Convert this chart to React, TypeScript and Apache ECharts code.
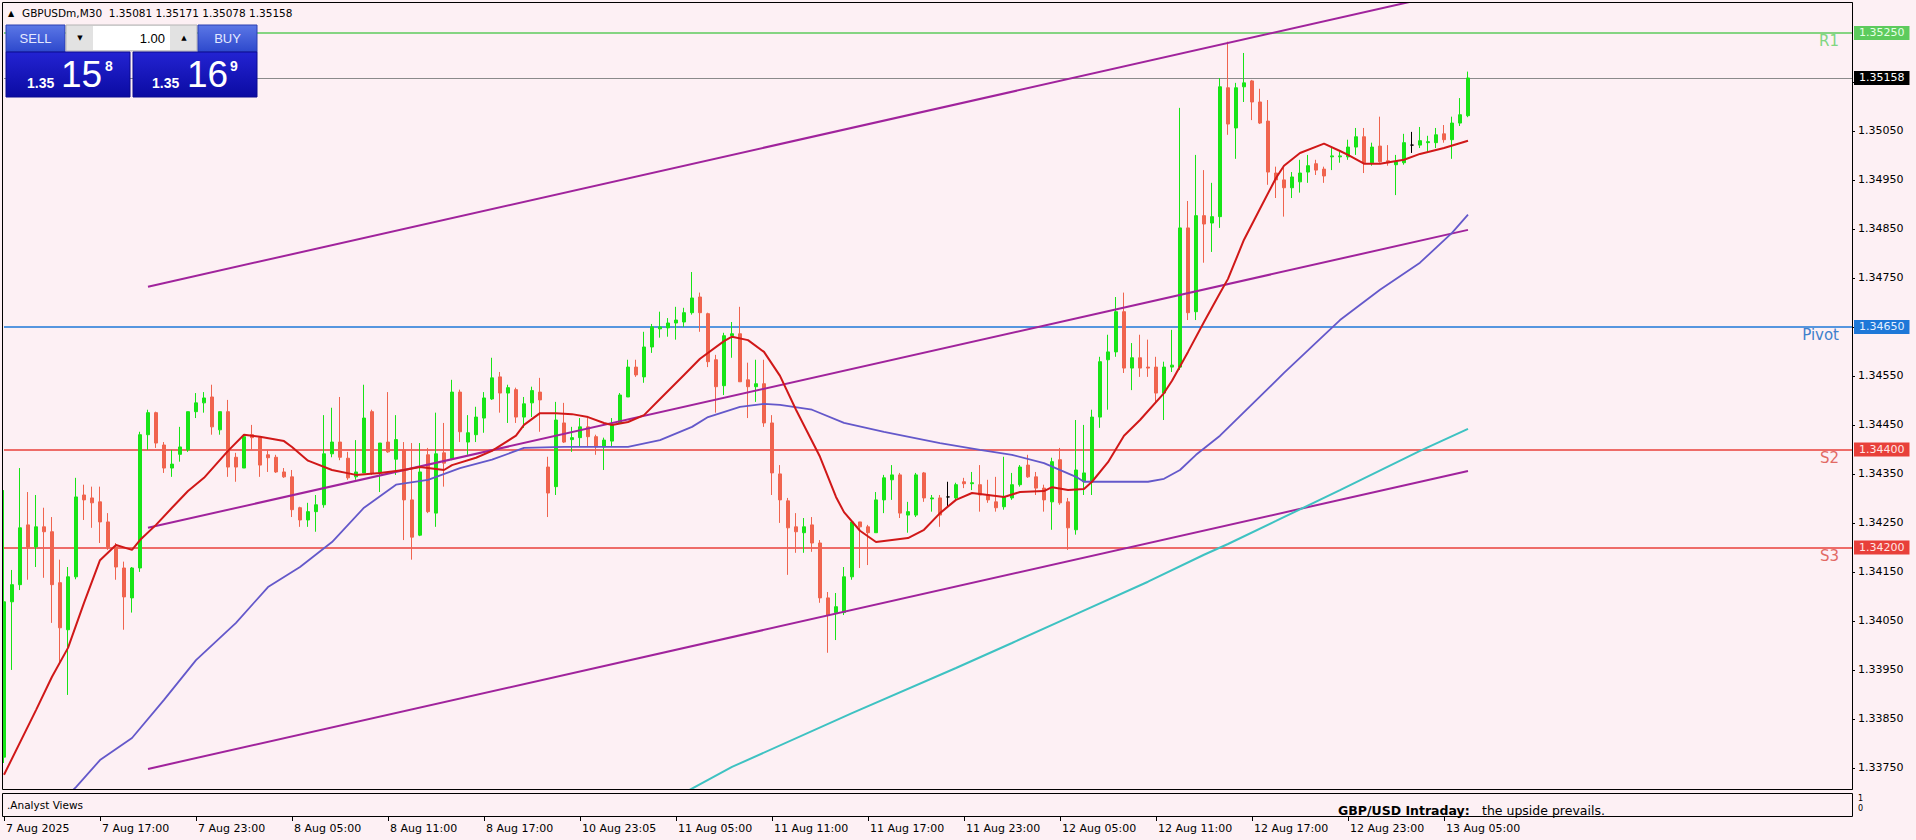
import React, { useEffect, useRef } from 'react';
import * as echarts from 'echarts';

// ---------------- DATA (GBPUSDm, M30) ----------------
const symbolName = 'GBPUSDm';
const timeframe = 'M30';

const opens = [
  1.33772, 1.34089, 1.34124, 1.34246, 1.34201, 1.34242, 1.34232, 1.34128, 1.34032, 1.34140,
  1.34307, 1.34301, 1.34293, 1.34252, 1.34201, 1.34158, 1.34097, 1.34158, 1.34430, 1.34475,
  1.34409, 1.34362, 1.34390, 1.34399, 1.34477, 1.34495, 1.34507, 1.34440, 1.34477, 1.34384,
  1.34362, 1.34430, 1.34424, 1.34389, 1.34384, 1.34354, 1.34344, 1.34281, 1.34256, 1.34273,
  1.34287, 1.34391, 1.34415, 1.34382, 1.34344, 1.34352, 1.34477, 1.34352, 1.34415, 1.34380,
  1.34399, 1.34297, 1.34225, 1.34389, 1.34270, 1.34393, 1.34381, 1.34517, 1.34415, 1.34430,
  1.34464, 1.34503, 1.34548, 1.34515, 1.34522, 1.34466, 1.34495, 1.34517, 1.34364, 1.34324,
  1.34454, 1.34420, 1.34424, 1.34446, 1.34426, 1.34405, 1.34417, 1.34454, 1.34507, 1.34568,
  1.34548, 1.34609, 1.34646, 1.34648, 1.34658, 1.34660, 1.34679, 1.34711, 1.34677, 1.34583,
  1.34530, 1.34632, 1.34636, 1.34542, 1.34528, 1.34534, 1.34454, 1.34350, 1.34295, 1.34242,
  1.34230, 1.34246, 1.34209, 1.34097, 1.34067, 1.34067, 1.34140, 1.34252, 1.34242, 1.34230,
  1.34297, 1.34338, 1.34348, 1.34266, 1.34266, 1.34352, 1.34299, 1.34301, 1.34303, 1.34301,
  1.34334, 1.34330, 1.34328, 1.34307, 1.34293, 1.34283, 1.34301, 1.34328, 1.34368, 1.34344,
  1.34321, 1.34293, 1.34379, 1.34293, 1.34236, 1.34334, 1.34334, 1.34466, 1.34583, 1.34599,
  1.34681, 1.34566, 1.34587, 1.34568, 1.34568, 1.34515, 1.34568, 1.34568, 1.34852, 1.34681,
  1.34877, 1.34862, 1.34875, 1.35138, 1.35056, 1.35140, 1.35152, 1.35109, 1.35070, 1.34964,
  1.34950, 1.34934, 1.34946, 1.34966, 1.34983, 1.34972, 1.34997, 1.34997, 1.34997, 1.35017,
  1.35038, 1.34985, 1.35019, 1.34989, 1.34981, 1.34985, 1.35021, 1.35021, 1.35026, 1.35026,
  1.35044, 1.35032, 1.35066, 1.35081,
];
const highs = [
  1.34317, 1.34154, 1.34362, 1.34313, 1.34307, 1.34281, 1.34262, 1.34175, 1.34160, 1.34342,
  1.34328, 1.34324, 1.34324, 1.34270, 1.34209, 1.34171, 1.34160, 1.34436, 1.34481, 1.34477,
  1.34415, 1.34399, 1.34446, 1.34477, 1.34515, 1.34517, 1.34532, 1.34477, 1.34501, 1.34393,
  1.34430, 1.34450, 1.34426, 1.34399, 1.34389, 1.34362, 1.34358, 1.34283, 1.34291, 1.34307,
  1.34470, 1.34485, 1.34507, 1.34395, 1.34419, 1.34532, 1.34481, 1.34413, 1.34517, 1.34470,
  1.34415, 1.34413, 1.34413, 1.34403, 1.34475, 1.34454, 1.34542, 1.34522, 1.34470, 1.34487,
  1.34517, 1.34587, 1.34558, 1.34532, 1.34526, 1.34507, 1.34528, 1.34546, 1.34385, 1.34497,
  1.34495, 1.34446, 1.34464, 1.34464, 1.34430, 1.34424, 1.34464, 1.34515, 1.34583, 1.34583,
  1.34640, 1.34656, 1.34681, 1.34668, 1.34691, 1.34689, 1.34762, 1.34720, 1.34679, 1.34593,
  1.34638, 1.34660, 1.34691, 1.34577, 1.34583, 1.34583, 1.34470, 1.34368, 1.34301, 1.34270,
  1.34260, 1.34262, 1.34215, 1.34109, 1.34107, 1.34160, 1.34256, 1.34252, 1.34246, 1.34313,
  1.34348, 1.34368, 1.34352, 1.34293, 1.34352, 1.34354, 1.34307, 1.34307, 1.34334, 1.34332,
  1.34342, 1.34354, 1.34368, 1.34338, 1.34344, 1.34385, 1.34352, 1.34368, 1.34389, 1.34354,
  1.34328, 1.34383, 1.34403, 1.34301, 1.34460, 1.34450, 1.34481, 1.34589, 1.34634, 1.34711,
  1.34720, 1.34617, 1.34634, 1.34624, 1.34589, 1.34579, 1.34644, 1.35097, 1.34907, 1.35001,
  1.34970, 1.34944, 1.35158, 1.35232, 1.35148, 1.35209, 1.35154, 1.35136, 1.35113, 1.34977,
  1.34975, 1.34966, 1.34991, 1.35001, 1.34991, 1.34977, 1.35015, 1.35007, 1.35032, 1.35056,
  1.35056, 1.35026, 1.35079, 1.35021, 1.35001, 1.35044, 1.35048, 1.35058, 1.35040, 1.35056,
  1.35062, 1.35079, 1.35117, 1.35171,
];
const lows = [
  1.33760, 1.33950, 1.34113, 1.34134, 1.34160, 1.34138, 1.34046, 1.33964, 1.33899, 1.34135,
  1.34256, 1.34240, 1.34209, 1.34195, 1.34134, 1.34032, 1.34067, 1.34150, 1.34399, 1.34403,
  1.34352, 1.34344, 1.34375, 1.34395, 1.34464, 1.34475, 1.34430, 1.34430, 1.34344, 1.34334,
  1.34362, 1.34399, 1.34344, 1.34354, 1.34352, 1.34342, 1.34262, 1.34242, 1.34242, 1.34232,
  1.34281, 1.34384, 1.34378, 1.34338, 1.34338, 1.34352, 1.34348, 1.34313, 1.34393, 1.34348,
  1.34215, 1.34175, 1.34223, 1.34270, 1.34242, 1.34324, 1.34378, 1.34415, 1.34389, 1.34415,
  1.34434, 1.34501, 1.34475, 1.34454, 1.34454, 1.34444, 1.34466, 1.34436, 1.34262, 1.34307,
  1.34413, 1.34395, 1.34405, 1.34405, 1.34389, 1.34358, 1.34405, 1.34454, 1.34507, 1.34548,
  1.34536, 1.34597, 1.34628, 1.34630, 1.34624, 1.34650, 1.34675, 1.34640, 1.34568, 1.34475,
  1.34511, 1.34587, 1.34538, 1.34464, 1.34497, 1.34446, 1.34307, 1.34250, 1.34144, 1.34189,
  1.34189, 1.34191, 1.34087, 1.33985, 1.34011, 1.34062, 1.34134, 1.34158, 1.34164, 1.34230,
  1.34270, 1.34297, 1.34260, 1.34230, 1.34262, 1.34293, 1.34273, 1.34242, 1.34281, 1.34297,
  1.34321, 1.34317, 1.34273, 1.34291, 1.34273, 1.34277, 1.34297, 1.34324, 1.34342, 1.34307,
  1.34273, 1.34236, 1.34287, 1.34195, 1.34226, 1.34307, 1.34307, 1.34444, 1.34481, 1.34589,
  1.34556, 1.34521, 1.34548, 1.34548, 1.34495, 1.34460, 1.34558, 1.34562, 1.34664, 1.34664,
  1.34781, 1.34803, 1.34852, 1.35042, 1.34993, 1.35109, 1.35072, 1.35064, 1.34940, 1.34913,
  1.34875, 1.34913, 1.34924, 1.34944, 1.34960, 1.34944, 1.34970, 1.34985, 1.34991, 1.35001,
  1.34964, 1.34979, 1.34985, 1.34979, 1.34919, 1.34981, 1.35005, 1.35015, 1.35007, 1.35015,
  1.35026, 1.34993, 1.35060, 1.35078,
];
const closes = [
  1.34089, 1.34124, 1.34240, 1.34201, 1.34242, 1.34232, 1.34124, 1.34036, 1.34140, 1.34303,
  1.34297, 1.34291, 1.34252, 1.34201, 1.34160, 1.34099, 1.34158, 1.34430, 1.34475, 1.34413,
  1.34362, 1.34370, 1.34405, 1.34477, 1.34495, 1.34505, 1.34446, 1.34477, 1.34364, 1.34364,
  1.34426, 1.34424, 1.34368, 1.34383, 1.34354, 1.34344, 1.34277, 1.34256, 1.34273, 1.34287,
  1.34391, 1.34415, 1.34384, 1.34342, 1.34354, 1.34464, 1.34352, 1.34413, 1.34395, 1.34420,
  1.34297, 1.34221, 1.34354, 1.34273, 1.34391, 1.34372, 1.34517, 1.34436, 1.34434, 1.34466,
  1.34505, 1.34546, 1.34515, 1.34526, 1.34466, 1.34493, 1.34520, 1.34501, 1.34311, 1.34460,
  1.34415, 1.34424, 1.34446, 1.34426, 1.34405, 1.34419, 1.34450, 1.34511, 1.34568, 1.34552,
  1.34609, 1.34650, 1.34650, 1.34658, 1.34664, 1.34679, 1.34709, 1.34679, 1.34579, 1.34528,
  1.34632, 1.34636, 1.34538, 1.34528, 1.34534, 1.34454, 1.34352, 1.34297, 1.34240, 1.34232,
  1.34242, 1.34209, 1.34097, 1.34062, 1.34079, 1.34140, 1.34252, 1.34242, 1.34230, 1.34297,
  1.34342, 1.34348, 1.34270, 1.34273, 1.34348, 1.34301, 1.34301, 1.34266, 1.34303, 1.34328,
  1.34330, 1.34332, 1.34307, 1.34297, 1.34281, 1.34303, 1.34328, 1.34364, 1.34344, 1.34321,
  1.34297, 1.34375, 1.34291, 1.34240, 1.34358, 1.34352, 1.34466, 1.34579, 1.34599, 1.34681,
  1.34566, 1.34587, 1.34566, 1.34566, 1.34515, 1.34568, 1.34572, 1.34852, 1.34679, 1.34877,
  1.34860, 1.34875, 1.35140, 1.35064, 1.35138, 1.35148, 1.35109, 1.35066, 1.34966, 1.34950,
  1.34934, 1.34956, 1.34964, 1.34979, 1.34970, 1.34958, 1.34999, 1.34999, 1.35017, 1.35038,
  1.34985, 1.35017, 1.34987, 1.34985, 1.34987, 1.35026, 1.35021, 1.35030, 1.35028, 1.35042,
  1.35032, 1.35066, 1.35083, 1.35158,
];

// moving averages, read as [bar index, price]
const maFast: [number, number][] = [
  [0, 1.33736], [4, 1.33868], [6, 1.33936], [8, 1.33995], [10, 1.34087], [12, 1.34174], [14, 1.34205],
  [16, 1.34195], [17, 1.34215], [19, 1.34246], [21, 1.34281], [23, 1.34315], [25, 1.34342], [28, 1.34397],
  [30, 1.3443], [32, 1.34426], [35, 1.34417], [36, 1.34405], [38, 1.34377], [41, 1.34358], [44, 1.34348],
  [47, 1.34352], [50, 1.34358], [52, 1.34364], [55, 1.34358], [56, 1.34368], [59, 1.34383], [61, 1.34397],
  [64, 1.34428], [65, 1.3445], [67, 1.34474], [69, 1.34474], [71, 1.34472], [73, 1.34466], [75, 1.34454],
  [76, 1.3445], [78, 1.34456], [80, 1.3447], [82, 1.34503], [85, 1.34552], [87, 1.34585], [90, 1.34621],
  [91, 1.3463], [93, 1.34623], [95, 1.34599], [97, 1.3455], [99, 1.34481], [102, 1.34385], [104, 1.34303],
  [105, 1.34272], [107, 1.34234], [109, 1.34211], [113, 1.34219], [115, 1.34236], [117, 1.3427],
  [119, 1.34297], [121, 1.34311], [123, 1.34307], [125, 1.34303], [127, 1.34313], [130, 1.34315],
  [131, 1.34323], [133, 1.34317], [135, 1.34319], [136, 1.34334], [138, 1.34374], [140, 1.34428],
  [142, 1.3446], [145, 1.34515], [146, 1.3454], [148, 1.34599], [150, 1.3466], [152, 1.34719],
  [153, 1.34748], [155, 1.34828], [157, 1.34891], [159, 1.34954], [160, 1.34979], [162, 1.35005],
  [165, 1.35024], [167, 1.35009], [168, 1.35001], [170, 1.34983], [172, 1.34983], [175, 1.34991],
  [177, 1.35003], [180, 1.35015], [183, 1.3503],
];
const maMid: [number, number][] = [
  [7, 1.33679], [9, 1.33711], [12, 1.33766], [16, 1.33811], [20, 1.33889], [24, 1.3397], [29, 1.34046],
  [33, 1.34119], [37, 1.3416], [41, 1.34211], [45, 1.34281], [49, 1.34328], [53, 1.34338], [57, 1.34362],
  [61, 1.34379], [65, 1.34403], [70, 1.34405], [75, 1.34405], [78, 1.34405], [82, 1.34419], [86, 1.34446],
  [88, 1.34466], [92, 1.34487], [95, 1.34493], [97, 1.34491], [101, 1.34481], [105, 1.34454],
  [110, 1.34436], [117, 1.34413], [122, 1.34399], [126, 1.34389], [130, 1.34372], [134, 1.34344],
  [135, 1.34334], [139, 1.34334], [143, 1.34334], [145, 1.3434], [147, 1.34358], [149, 1.34389],
  [152, 1.34428], [160, 1.34556], [167, 1.34664], [172, 1.34726], [177, 1.34781], [181, 1.34842],
  [183, 1.34879],
];
const maSlow: [number, number][] = [
  [85, 1.33699], [91, 1.33752], [106, 1.33862], [119, 1.33954], [126, 1.34005], [134, 1.34064],
  [143, 1.3413], [150, 1.34185], [153, 1.34207], [159, 1.34254], [167, 1.34317], [177, 1.34397],
  [183, 1.34442],
];

// equidistant channel (start bar, end bar)
const channelBars = [18, 183];
const channelUpper = [1.34732, 1.3534];
const channelMiddle = [1.3424, 1.34848];
const channelLower = [1.33748, 1.34356];

// horizontal pivot levels
const levelNames = ['R1', 'Pivot', 'S2', 'S3'];
const levelValues = [1.3525, 1.3465, 1.344, 1.342];
const levelLineColors = ['#5DCB5D', '#1E78D8', '#E8403A', '#E8403A'];
const levelTextColors = ['#80D680', '#3F80CC', '#E26A64', '#E26A64'];
const levelBadgeText = ['#E6FFE6', '#E6F0FF', '#FFE6E6', '#FFE6E6'];

// price-axis ticks (labels hidden where a level badge covers them)
const yTickValues = [
  1.3375, 1.3385, 1.3395, 1.3405, 1.3415, 1.3425, 1.3435, 1.3445, 1.3455, 1.3465, 1.3475, 1.3485, 1.3495,
  1.3505, 1.3515,
];
const yLabelValues = [
  1.3375, 1.3385, 1.3395, 1.3405, 1.3415, 1.3425, 1.3435, 1.3445, 1.3455, 1.3475, 1.3485, 1.3495, 1.3505,
];
// time-axis ticks
const xTickBars = [0, 12, 24, 36, 48, 60, 72, 84, 96, 108, 120, 132, 144, 156, 168, 180];
const xTickLabels = [
  '7 Aug 2025', '7 Aug 17:00', '7 Aug 23:00', '8 Aug 05:00', '8 Aug 11:00', '8 Aug 17:00', '10 Aug 23:05',
  '11 Aug 05:00', '11 Aug 11:00', '11 Aug 17:00', '11 Aug 23:00', '12 Aug 05:00', '12 Aug 11:00',
  '12 Aug 17:00', '12 Aug 23:00', '13 Aug 05:00',
];

const bidPrice = 1.35158;
const askPrice = 1.35169;
const lotSize = '1.00';
const subWindowName = '.Analyst Views';
const analystTitle = 'GBP/USD Intraday:';
const analystText = 'the upside prevails.';

// ---------------- LAYOUT / STYLE ----------------
const TOTAL_SLOTS = 232;
const Y_MIN = 1.33707;
const Y_MAX = 1.35311;
const BG = '#FDF0F4';
const FONT = '"DejaVu Sans", Verdana, sans-serif';
const ARIAL = '"Liberation Sans", Arial, sans-serif';
const UP = '#17E417';
const DOWN = '#F0644E';

function splitPrice(p: number) {
  const s = p.toFixed(5);
  return { big: s.slice(0, 4), mid: s.slice(4, 6), pip: s.slice(6) };
}

export default function App() {
  const ref = useRef<HTMLDivElement>(null);

  useEffect(() => {
    if (!ref.current) return;
    const chart = echarts.init(ref.current, null, { renderer: 'svg', width: 1916, height: 840 });

    const categories = Array.from({ length: TOTAL_SLOTS }, (_, i) => String(i));
    const labelMap = new Map<number, string>();
    xTickBars.forEach((b, i) => labelMap.set(b, xTickLabels[i]));
    const showTick = (index: number) => labelMap.has(index);

    const candleData = opens.map((o, i) => [o, closes[i], lows[i], highs[i]]);
    const last = opens.length - 1;
    const lastClose = closes[last];

    const markData: any[] = [];
    levelValues.forEach((v, i) => {
      markData.push({
        yAxis: v,
        lineStyle: { color: levelLineColors[i], width: 1.5, type: 'solid' },
        label: {
          show: true,
          position: 'end',
          distance: [2, 0],
          formatter: v.toFixed(5),
          backgroundColor: levelLineColors[i],
          color: levelBadgeText[i],
          padding: [2, 5, 1, 5],
          fontFamily: FONT,
          fontSize: 11,
        },
      });
      markData.push({
        yAxis: v,
        lineStyle: { width: 0, color: 'rgba(0,0,0,0)' },
        label: {
          show: true,
          position: 'insideEndBottom',
          distance: [13, 1],
          formatter: levelNames[i],
          color: levelTextColors[i],
          fontFamily: FONT,
          fontSize: 15,
        },
      });
    });
    markData.push({
      yAxis: lastClose,
      lineStyle: { color: '#8A8A8A', width: 1, type: 'solid' },
      label: {
        show: true,
        position: 'end',
        distance: [2, 0],
        formatter: lastClose.toFixed(5),
        backgroundColor: '#000',
        color: '#fff',
        padding: [2, 5, 1, 5],
        fontFamily: FONT,
        fontSize: 11,
      },
    });

    const lineSeries = (name: string, data: any[], color: string, width: number) => ({
      name,
      type: 'line',
      xAxisIndex: 0,
      yAxisIndex: 0,
      data,
      showSymbol: false,
      symbol: 'none',
      clip: true,
      silent: true,
      lineStyle: { color, width },
      z: 5,
    });

    const bid = splitPrice(bidPrice);
    const ask = splitPrice(askPrice);
    const btnGrad = () =>
      new echarts.graphic.LinearGradient(0, 0, 0, 1, [
        { offset: 0, color: '#5B77E6' },
        { offset: 1, color: '#2D48CC' },
      ]);
    const boxGrad = () =>
      new echarts.graphic.LinearGradient(0, 0, 0, 1, [
        { offset: 0, color: '#2323D2' },
        { offset: 1, color: '#0B0BA2' },
      ]);
    const txt = (text: string, x: number, y: number, o: any = {}) => ({
      type: 'text',
      x,
      y,
      z: 101,
      silent: true,
      style: {
        text,
        fill: o.fill ?? '#000',
        fontSize: o.fontSize ?? 11,
        fontFamily: o.fontFamily ?? FONT,
        fontWeight: o.fontWeight ?? 'normal',
        align: o.align ?? 'left',
        textAlign: o.align ?? 'left',
        verticalAlign: 'middle',
        textVerticalAlign: 'middle',
      },
    });

    const headerText = `${symbolName},${timeframe}  ${opens[last].toFixed(5)} ${highs[last].toFixed(5)} ${lows[
      last
    ].toFixed(5)} ${closes[last].toFixed(5)}`;

    const graphics: any[] = [
      // frames
      { type: 'rect', z: 50, silent: true, shape: { x: 2.5, y: 2.5, width: 1850, height: 787 }, style: { fill: 'none', stroke: '#000', lineWidth: 1 } },
      { type: 'rect', z: 50, silent: true, shape: { x: 2.5, y: 793.5, width: 1850, height: 23 }, style: { fill: 'none', stroke: '#000', lineWidth: 1 } },
      // header
      txt('\u25B2', 8, 13, { fontSize: 8 }),
      txt(headerText, 22, 13, { fontSize: 10.5 }),
      // one-click panel
      { type: 'rect', z: 100, silent: true, shape: { x: 6, y: 25, width: 59, height: 27 }, style: { fill: btnGrad(), stroke: '#2A3FB0', lineWidth: 1 } },
      { type: 'rect', z: 100, silent: true, shape: { x: 66, y: 25, width: 131, height: 26 }, style: { fill: '#E2E2E2', stroke: '#B4B4B4', lineWidth: 1 } },
      { type: 'rect', z: 100, silent: true, shape: { x: 93, y: 26, width: 77, height: 24 }, style: { fill: '#FFFFFF' } },
      { type: 'rect', z: 100, silent: true, shape: { x: 198, y: 25, width: 59, height: 27 }, style: { fill: btnGrad(), stroke: '#2A3FB0', lineWidth: 1 } },
      { type: 'rect', z: 100, silent: true, shape: { x: 6, y: 52, width: 124, height: 45 }, style: { fill: boxGrad(), stroke: '#0A0A90', lineWidth: 1 } },
      { type: 'rect', z: 100, silent: true, shape: { x: 133, y: 52, width: 124, height: 45 }, style: { fill: boxGrad(), stroke: '#0A0A90', lineWidth: 1 } },
      txt('SELL', 35.5, 38.5, { fill: '#E4E9FF', fontSize: 13, fontFamily: ARIAL, align: 'center' }),
      txt('BUY', 227.5, 38.5, { fill: '#E4E9FF', fontSize: 13, fontFamily: ARIAL, align: 'center' }),
      txt('\u25BC', 80, 38, { fontSize: 7, align: 'center' }),
      txt('\u25B2', 184, 38, { fontSize: 7, align: 'center' }),
      txt(lotSize, 165, 38.5, { fontSize: 13, fontFamily: ARIAL, align: 'right' }),
      txt(bid.big, 27, 83, { fill: '#fff', fontSize: 14, fontWeight: 'bold', fontFamily: ARIAL }),
      txt(bid.mid, 61, 74, { fill: '#fff', fontSize: 37, fontFamily: ARIAL }),
      txt(bid.pip, 105, 65.5, { fill: '#fff', fontSize: 14, fontWeight: 'bold', fontFamily: ARIAL }),
      txt(ask.big, 152, 83, { fill: '#fff', fontSize: 14, fontWeight: 'bold', fontFamily: ARIAL }),
      txt(ask.mid, 187, 74, { fill: '#fff', fontSize: 37, fontFamily: ARIAL }),
      txt(ask.pip, 230, 65.5, { fill: '#fff', fontSize: 14, fontWeight: 'bold', fontFamily: ARIAL }),
      // sub window
      txt(subWindowName, 7, 805, { fontSize: 10.5 }),
      txt(analystTitle, 1338, 810, { fontSize: 12.5, fontWeight: 'bold' }),
      txt(analystText, 1482, 810, { fontSize: 12.5 }),
      txt('1', 1858, 798, { fontSize: 8 }),
      txt('0', 1858, 808, { fontSize: 8 }),
    ];

    const option: any = {
      animation: false,
      backgroundColor: BG,
      grid: [
        { left: 4, top: 3, width: 1848, height: 786 },
        { left: 4, top: 793, width: 1848, height: 24 },
      ],
      xAxis: [
        {
          type: 'category',
          gridIndex: 0,
          data: categories,
          boundaryGap: false,
          axisLine: { show: false },
          axisTick: { show: false },
          axisLabel: { show: false },
          splitLine: { show: false },
        },
        {
          type: 'category',
          gridIndex: 1,
          data: categories,
          boundaryGap: false,
          axisLine: { show: false },
          axisTick: { show: true, interval: showTick, length: 4, lineStyle: { color: '#000', width: 1 } },
          axisLabel: {
            show: true,
            interval: showTick,
            formatter: (_v: string, i: number) => labelMap.get(i) ?? '',
            align: 'left',
            margin: 6,
            padding: [0, 0, 0, 2],
            color: '#000',
            fontFamily: FONT,
            fontSize: 11,
          },
          splitLine: { show: false },
        },
      ],
      yAxis: [
        {
          type: 'value',
          gridIndex: 0,
          position: 'right',
          min: Y_MIN,
          max: Y_MAX,
          axisLine: { show: true, lineStyle: { color: '#000', width: 1 } },
          axisTick: { show: true, customValues: yTickValues, length: 3, lineStyle: { color: '#000' } },
          axisLabel: {
            show: true,
            customValues: yLabelValues,
            formatter: (v: number) => v.toFixed(5),
            margin: 6,
            color: '#000',
            fontFamily: FONT,
            fontSize: 11,
          },
          splitLine: { show: false },
        },
        { type: 'value', gridIndex: 1, min: 0, max: 1, show: false },
      ],
      series: [
        {
          name: 'price',
          type: 'candlestick',
          xAxisIndex: 0,
          yAxisIndex: 0,
          data: candleData,
          barWidth: 4,
          silent: true,
          itemStyle: {
            color: UP,
            color0: DOWN,
            borderColor: UP,
            borderColor0: DOWN,
            borderColorDoji: '#000',
            borderWidth: 1,
          },
          markLine: {
            silent: true,
            symbol: ['none', 'none'],
            precision: 5,
            data: markData,
            z: 3,
          },
          z: 4,
        },
        lineSeries('channelUpper', channelBars.map((b, i) => [b, channelUpper[i]]), '#A0239C', 2),
        lineSeries('channelMiddle', channelBars.map((b, i) => [b, channelMiddle[i]]), '#A0239C', 2),
        lineSeries('channelLower', channelBars.map((b, i) => [b, channelLower[i]]), '#A0239C', 2),
        lineSeries('maSlow', maSlow, '#3EC2C2', 2),
        lineSeries('maMid', maMid, '#6458CA', 1.8),
        lineSeries('maFast', maFast, '#D01818', 2),
        { name: 'analyst', type: 'line', xAxisIndex: 1, yAxisIndex: 1, data: [], showSymbol: false },
      ],
      graphic: graphics,
    };

    chart.setOption(option);
    return () => chart.dispose();
  }, []);

  return (
    <div
      ref={ref}
      style={{ position: 'absolute', left: 0, top: 0, width: 1916, height: 840, background: BG }}
    />
  );
}
